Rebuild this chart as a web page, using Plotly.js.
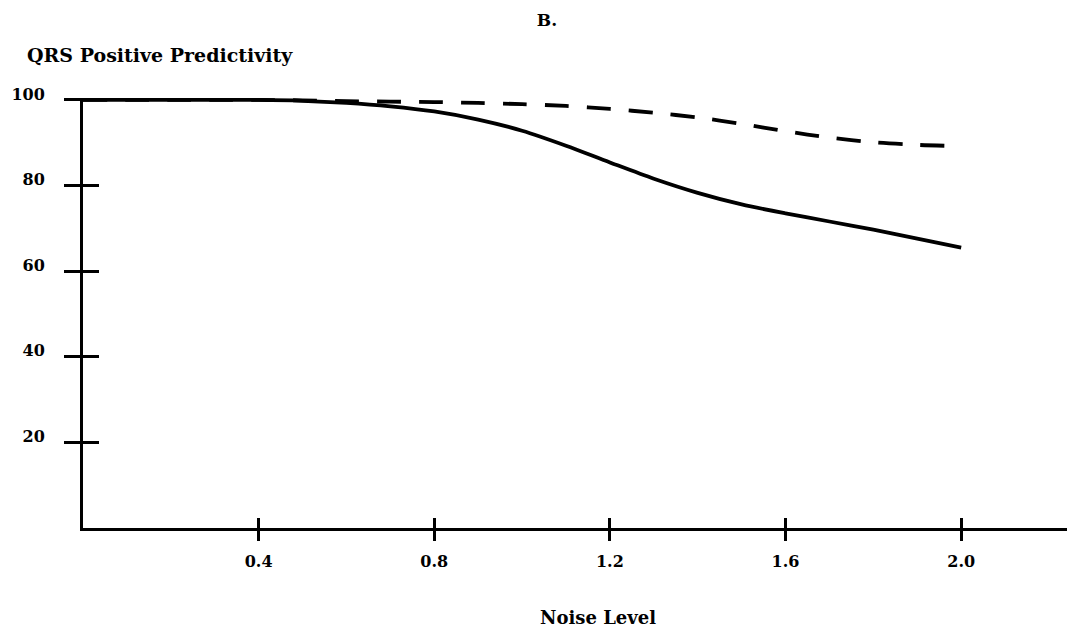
<!DOCTYPE html>
<html>
<head>
<meta charset="utf-8">
<script src="https://cdn.plot.ly/plotly-3.0.1.min.js"></script>
<style>html,body{margin:0;padding:0;background:#fff;}#chart{width:1067px;height:633px;}</style>
</head>
<body>
<div id="chart"></div>
<script>
// Data
const noiseLevel = [0, 0.1, 0.2, 0.3, 0.4, 0.5, 0.6, 0.7, 0.8, 0.9, 1.0, 1.1, 1.2, 1.3, 1.4, 1.5, 1.6, 1.7, 1.8, 1.9, 2.0];
const solidSeries = [100, 100, 100, 100, 100, 99.8, 99.3, 98.5, 97.3, 95.4, 92.8, 89.3, 85.4, 81.6, 78.3, 75.6, 73.5, 71.6, 69.7, 67.6, 65.5];
const dashedSeries = [100, 100, 100, 100, 100, 99.9, 99.7, 99.6, 99.5, 99.3, 99.0, 98.6, 97.9, 97.0, 95.9, 94.4, 92.7, 91.2, 90.1, 89.5, 89.2];
const xTickVals = [0.4, 0.8, 1.2, 1.6, 2.0];
const xTickText = ["0.4", "0.8", "1.2", "1.6", "2.0"];
const yTickVals = [20, 40, 60, 80, 100];
const yTickText = ["20", "40", "60", "80", "100"];

const FONT = "DejaVu Serif";
const xRange = [0, 2.241];
const yRange = [0, 100.45];
const clear = 'rgba(0,0,0,0)';

const traces = [
  {x: noiseLevel, y: dashedSeries, type: 'scatter', mode: 'lines', xaxis: 'x', yaxis: 'y',
   line: {color: '#000', width: 3.8, shape: 'spline', smoothing: 0.8, dash: '24px,18px'}, hoverinfo: 'skip'},
  {x: noiseLevel, y: solidSeries, type: 'scatter', mode: 'lines', xaxis: 'x2', yaxis: 'y2',
   line: {color: '#000', width: 3.8, shape: 'spline', smoothing: 0.8}, hoverinfo: 'skip'}
];

const layout = {
  width: 1067, height: 633,
  margin: {l: 83, r: 0, t: 98, b: 105},
  paper_bgcolor: '#fff', plot_bgcolor: clear,
  showlegend: false,
  font: {family: FONT, color: '#000', size: 16, weight: 'bold'},
  title: {text: 'B.', font: {family: FONT, size: 17, weight: 'bold', color: '#000'},
          x: 547/1067, xref: 'container', xanchor: 'center', y: 1 - 20/633, yref: 'container', yanchor: 'middle'},
  // plain axes: inner half of the crossing ticks
  xaxis: {range: xRange, anchor: 'y', ticks: 'inside', ticklen: 10, tickwidth: 3, tickcolor: '#000',
          tickvals: xTickVals, ticktext: xTickVals.map(() => ''),
          showgrid: true, gridcolor: clear, zeroline: true, zerolinecolor: clear},
  yaxis: {range: yRange, anchor: 'x', ticks: 'inside', ticklen: 16, tickwidth: 3, tickcolor: '#000',
          tickvals: yTickVals, ticktext: yTickVals.map(() => ''),
          showgrid: true, gridcolor: clear, zeroline: true, zerolinecolor: clear},
  // labelled axes: axis lines, outer half of ticks, labels
  xaxis2: {range: xRange, anchor: 'y2', showgrid: false, zeroline: false, showline: true, linecolor: '#000', linewidth: 3,
          ticks: 'outside', ticklen: 10, tickwidth: 3, tickcolor: '#000',
          tickvals: xTickVals, ticktext: xTickText, ticklabelstandoff: 7,
          tickfont: {family: FONT, size: 16, weight: 'bold', color: '#000'}},
  yaxis2: {range: yRange, anchor: 'x2', showgrid: false, zeroline: false, showline: true, linecolor: '#000', linewidth: 3,
          ticks: 'outside', ticklen: 16, tickwidth: 3, tickcolor: '#000',
          tickvals: yTickVals, ticktext: yTickText, ticklabelstandoff: 16, ticklabelshift: -6,
          tickfont: {family: FONT, size: 16, weight: 'bold', color: '#000'}},
  annotations: [
    {text: 'QRS Positive Predictivity', xref: 'paper', yref: 'paper', x: (25 - 83) / 984, y: 1 + (98 - 55) / 430,
     xanchor: 'left', yanchor: 'middle', showarrow: false, font: {family: FONT, size: 19, weight: 'bold', color: '#000'}},
    {text: 'Noise Level', xref: 'paper', yref: 'paper', x: (598 - 83) / 984, y: -(617 - 528) / 430,
     xanchor: 'center', yanchor: 'middle', showarrow: false, font: {family: FONT, size: 18, weight: 'bold', color: '#000'}}
  ]
};

Plotly.newPlot('chart', traces, layout, {displayModeBar: false});
</script>
</body>
</html>
